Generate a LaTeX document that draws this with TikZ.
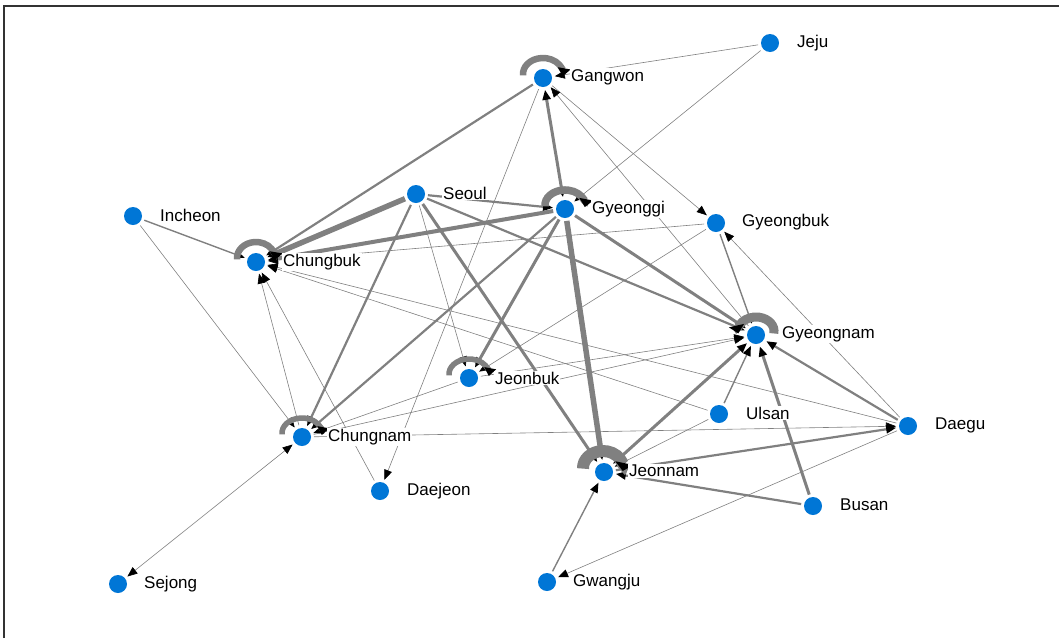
\documentclass[tikz,border=0pt]{standalone}
\usepackage{fontspec}
\setmainfont{Liberation Sans}
\usetikzlibrary{arrows.meta}
\definecolor{nodeblue}{RGB}{0,118,214}
\definecolor{edgegray}{RGB}{128,128,128}
\begin{document}
\begin{tikzpicture}[x=1pt,y=-1pt,
  vtx/.style={circle,fill=nodeblue,minimum size=18pt,inner sep=0pt,outer sep=3pt},
  lbl/.style={anchor=west,fill=white,inner sep=1pt,font=\fontsize{17}{20}\selectfont},
  ed/.style={draw=edgegray},
  wa/.style={line width=0.6pt},
  wb/.style={line width=1.4pt},
  wc/.style={line width=2.2pt},
  wd/.style={line width=3pt},
  we/.style={line width=4pt},
  wf/.style={line width=5.5pt},
  tip/.style={-{Triangle[length=10pt,width=8pt,color=black]}},
  both/.style={{Triangle[length=10pt,width=8pt,color=black]}-{Triangle[length=10pt,width=8pt,color=black]}},
  loopst/.style={draw=edgegray,line width=#1,-{Triangle[length=8pt,width=#1+6pt,color=black]}}
]
\useasboundingbox (0,0) rectangle (1059,638);
\draw[line width=1.3pt, black!80] (4,638) -- (4,6) -- (1059,6);

% nodes
\node[vtx] (Jeju) at (770,43) {};
\node[vtx] (Gangwon) at (543,78) {};
\node[vtx] (Seoul) at (416,194) {};
\node[vtx] (Gyeonggi) at (565,209) {};
\node[vtx] (Incheon) at (133,216) {};
\node[vtx] (Gyeongbuk) at (716,223) {};
\node[vtx] (Chungbuk) at (256,262) {};
\node[vtx] (Gyeongnam) at (756,335) {};
\node[vtx] (Jeonbuk) at (469,378) {};
\node[vtx] (Ulsan) at (719,414) {};
\node[vtx] (Daegu) at (908,426) {};
\node[vtx] (Chungnam) at (302,437) {};
\node[vtx] (Jeonnam) at (604,472) {};
\node[vtx] (Daejeon) at (380,491) {};
\node[vtx] (Busan) at (813,506) {};
\node[vtx] (Sejong) at (118,584) {};
\node[vtx] (Gwangju) at (547,582) {};

% edges
\draw[ed,wa,tip] (Jeju) -- (Gangwon);
\draw[ed,wa,tip] (Jeju) -- (Gyeonggi);
\draw[ed,wd,both] (Gangwon) -- (Gyeonggi);
\draw[ed,wc,tip] (Gangwon) -- (Chungbuk);
\draw[ed,wa,tip] (Gangwon) -- (Daejeon);
\draw[ed,wa,tip] (Gangwon) -- (Gyeongbuk);
\draw[ed,wa,tip] (Gyeongnam) -- (Gangwon);
\draw[ed,wc,tip] (Seoul) -- (Gyeonggi);
\draw[ed,wf,tip] (Seoul) -- (Chungbuk);
\draw[ed,wc,tip] (Seoul) -- (Chungnam);
\draw[ed,wa,tip] (Seoul) -- (Jeonbuk);
\draw[ed,wd,tip] (Seoul) -- (Jeonnam);
\draw[ed,wc,tip] (Seoul) -- (Gyeongnam);
\draw[ed,we,tip] (Gyeonggi) -- (Chungbuk);
\draw[ed,wf,tip] (Gyeonggi) -- (Jeonnam);
\draw[ed,wd,tip] (Gyeonggi) -- (Gyeongnam);
\draw[ed,wd,tip] (Gyeonggi) -- (Jeonbuk);
\draw[ed,wc,tip] (Gyeonggi) -- (Chungnam);
\draw[ed,wa,tip] (Gyeongbuk) -- (Chungbuk);
\draw[ed,wa,tip] (Gyeongbuk) -- (Jeonbuk);
\draw[ed,wb,tip] (Gyeongbuk) -- (Gyeongnam);
\draw[ed,wa,tip] (Daegu) -- (Gyeongbuk);
\draw[ed,wb,tip] (Incheon) -- (Chungbuk);
\draw[ed,wa,tip] (Incheon) -- (Chungnam);
\draw[ed,wa,tip] (Chungnam) -- (Chungbuk);
\draw[ed,wa,tip] (Daejeon) -- (Chungbuk);
\draw[ed,wa,tip] (Daegu) -- (Chungbuk);
\draw[ed,wa,tip] (Ulsan) -- (Chungbuk);
\draw[ed,wa,both] (Chungnam) -- (Sejong);
\draw[ed,wa,tip] (Chungnam) -- (Daegu);
\draw[ed,wa,tip] (Chungnam) -- (Gyeongnam);
\draw[ed,wa,tip] (Jeonbuk) -- (Chungnam);
\draw[ed,wa,tip] (Jeonbuk) -- (Gyeongnam);
\draw[ed,wc,tip] (Daegu) -- (Gyeongnam);
\draw[ed,wd,tip] (Busan) -- (Gyeongnam);
\draw[ed,wb,tip] (Ulsan) -- (Gyeongnam);
\draw[ed,wd,both] (Jeonnam) -- (Gyeongnam);
\draw[ed,wc,tip] (Jeonnam) -- (Daegu);
\draw[ed,wc,tip] (Busan) -- (Jeonnam);
\draw[ed,wb,tip] (Gwangju) -- (Jeonnam);
\draw[ed,wa,tip] (Daegu) -- (Gwangju);
\draw[ed,wa,tip] (Ulsan) -- (Jeonnam);

% self loops (elliptic arcs over the node)
\draw[loopst=6.5pt] (Gangwon.center) ++(0,-4) ++(175:20 and 16) arc[start angle=175,end angle=368,x radius=20,y radius=16];
\draw[loopst=7.5pt] (Gyeonggi.center) ++(0,-4) ++(175:20 and 15) arc[start angle=175,end angle=368,x radius=20,y radius=15];
\draw[loopst=6.5pt] (Chungbuk.center) ++(0,-4) ++(175:19 and 16) arc[start angle=175,end angle=368,x radius=19,y radius=16];
\draw[loopst=9pt] (Gyeongnam.center) ++(0,-4) ++(10:18 and 14) arc[start angle=10,end angle=-190,x radius=18,y radius=14];
\draw[loopst=5.5pt] (Jeonbuk.center) ++(0,-4) ++(175:20 and 15) arc[start angle=175,end angle=368,x radius=20,y radius=15];
\draw[loopst=5.5pt] (Chungnam.center) ++(0,-4) ++(175:20 and 15) arc[start angle=175,end angle=368,x radius=20,y radius=15];
\draw[loopst=12pt] (Jeonnam.center) ++(-1,-4) ++(178:20 and 17) arc[start angle=178,end angle=370,x radius=20,y radius=17];

% node discs on top
\foreach \n in {Jeju,Gangwon,Seoul,Gyeonggi,Incheon,Gyeongbuk,Chungbuk,Gyeongnam,Jeonbuk,Ulsan,Daegu,Chungnam,Jeonnam,Daejeon,Busan,Sejong,Gwangju}
  \fill[white] (\n.center) circle[radius=11pt];
\foreach \n in {Jeju,Gangwon,Seoul,Gyeonggi,Incheon,Gyeongbuk,Chungbuk,Gyeongnam,Jeonbuk,Ulsan,Daegu,Chungnam,Jeonnam,Daejeon,Busan,Sejong,Gwangju}
  \fill[nodeblue] (\n.center) circle[radius=9pt];

% labels
\node[lbl] (JejuL) at (796,43) {Jeju};
\node[lbl] (GangwonL) at (570,77) {Gangwon};
\node[lbl] (SeoulL) at (442,193) {Seoul};
\node[lbl] (GyeonggiL) at (591,209) {Gyeonggi};
\node[lbl] (IncheonL) at (159,215) {Incheon};
\node[lbl] (GyeongbukL) at (741,222) {Gyeongbuk};
\node[lbl] (ChungbukL) at (282,262) {Chungbuk};
\node[lbl] (GyeongnamL) at (781,334) {Gyeongnam};
\node[lbl] (JeonbukL) at (494,378) {Jeonbuk};
\node[lbl] (UlsanL) at (745,413) {Ulsan};
\node[lbl] (DaeguL) at (934,425) {Daegu};
\node[lbl] (ChungnamL) at (327,437) {Chungnam};
\node[lbl] (JeonnamL) at (628,471) {Jeonnam};
\node[lbl] (DaejeonL) at (406,491) {Daejeon};
\node[lbl] (BusanL) at (839,505) {Busan};
\node[lbl] (SejongL) at (143,584) {Sejong};
\node[lbl] (GwangjuL) at (572,582) {Gwangju};
\end{tikzpicture}
\end{document}
